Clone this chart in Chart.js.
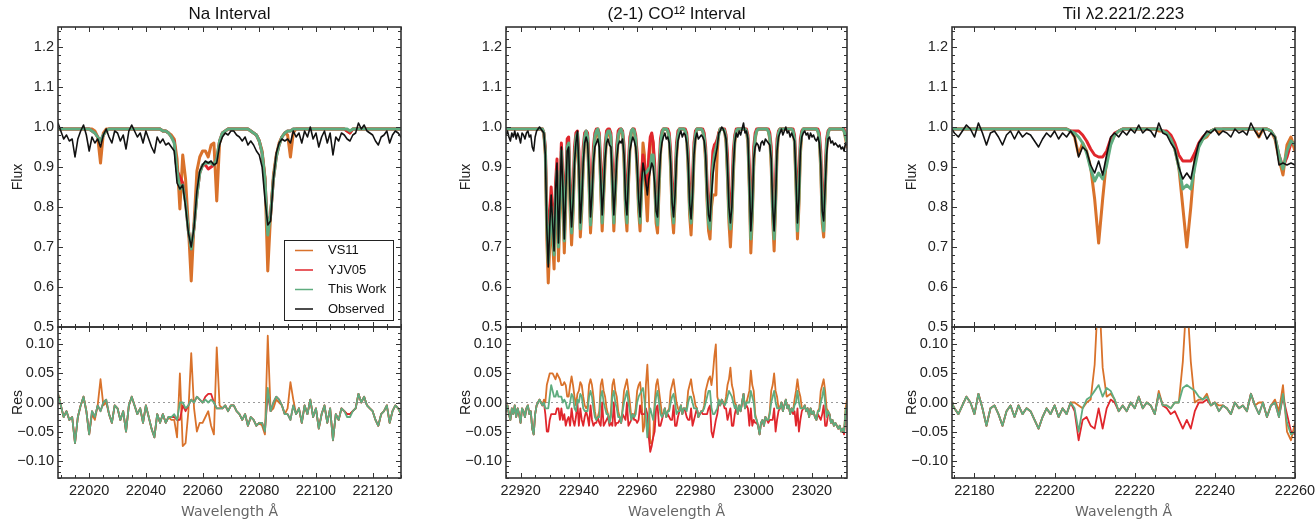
<!DOCTYPE html>
<html>
<head>
<meta charset="utf-8">
<script src="https://cdn.jsdelivr.net/npm/chart.js@4.4.1/dist/chart.umd.min.js"></script>
<style>
html,body{margin:0;padding:0;background:#fff;}
#wrap{position:relative;width:1315px;height:523px;overflow:hidden;background:#fff;}
canvas{position:absolute;}
</style>
</head>
<body>
<div id="wrap"></div>
<script>
// Model fits vs observed spectrum, three wavelength windows (flux + residual panels)

// ---- Na interval, 1 A sampling from 22009 A ----
const naStart = 22009, naStep = 1;
const naObs = [
  1.01,.99,.97,.98,.965,.97,.925,.97,.99,1.005,
  .98,.94,.975,.96,.97,.95,.98,.995,.975,.96,
  .99,.985,.965,.98,.945,.99,1.005,.99,.975,.985,
  .96,.99,.97,.95,.935,.975,.96,.97,.955,.96,
  .95,.94,.86,.845,.855,.80,.735,.70,.75,.84,
  .89,.905,.915,.91,.915,.905,.91,.955,.975,.985,
  .98,.99,.99,.98,.975,.965,.975,.955,.965,.955,
  .94,.93,.90,.82,.755,.765,.87,.935,.96,.97,
  .965,.97,.96,.99,.975,.985,.96,.99,.975,1.0,
  .97,.985,.95,.975,.99,.96,.985,.93,.975,.965,
  .985,.98,.97,.965,.98,.985,1.01,.995,1.005,.99,
  .985,.98,.965,.955,.975,.98,.99,.96,.98,.99,
  .985,.975
];
const naThisWork = [
  .995,.995,.995,.995,.995,.995,.995,.995,.995,.995,
  .995,.995,.99,.985,.975,.965,.98,.99,.995,.995,
  .995,.995,.995,.995,.995,.995,.995,.995,.995,.995,
  .995,.995,.995,.995,.995,.995,.995,.99,.99,.985,
  .975,.96,.89,.845,.855,.81,.74,.695,.75,.83,
  .885,.905,.91,.91,.91,.905,.92,.965,.985,.99,
  .995,.995,.995,.995,.995,.995,.995,.995,.99,.985,
  .98,.965,.935,.87,.73,.78,.87,.925,.955,.975,
  .985,.99,.99,.995,.995,.995,.995,.995,.995,.995,
  .995,.995,.995,.995,.995,.995,.995,.995,.995,.995,
  .995,.995,.995,.99,.995,.995,.995,.995,.995,.995,
  .995,.995,.995,.995,.995,.995,.995,.995,.995,.995,
  .995,.995
];
const naVS11 = [
  .995,.995,.995,.995,.995,.995,.995,.995,.995,.995,
  .995,.995,.995,.99,.975,.91,.985,.995,.995,.995,
  .995,.995,.995,.995,.995,.995,.995,.995,.995,.995,
  .995,.995,.995,.995,.995,.995,.995,.99,.99,.985,
  .98,.97,.92,.795,.93,.87,.75,.615,.76,.89,
  .925,.94,.94,.925,.955,.96,.815,.96,.985,.99,
  .995,.995,.995,.995,.995,.995,.995,.995,.99,.985,
  .98,.965,.94,.875,.64,.78,.88,.93,.96,.975,
  .985,.98,.925,.985,.995,.995,.995,.995,.995,.995,
  .995,.995,.995,.995,.995,.995,.995,.995,.995,.995,
  .995,.995,.99,.985,.995,.995,.995,.995,.995,.995,
  .995,.995,.995,.995,.995,.995,.995,.995,.995,.995,
  .995,.995
];
const naYJV05 = [
  .995,.995,.995,.995,.995,.995,.995,.995,.995,.995,
  .995,.995,.99,.985,.975,.965,.98,.99,.995,.995,
  .995,.995,.995,.995,.995,.995,.995,.995,.995,.995,
  .995,.995,.995,.995,.995,.995,.995,.99,.99,.985,
  .975,.965,.89,.875,.86,.815,.74,.695,.75,.83,
  .885,.905,.905,.895,.90,.905,.92,.965,.985,.99,
  .995,.995,.995,.995,.995,.995,.995,.995,.99,.985,
  .98,.965,.935,.87,.74,.78,.87,.925,.955,.975,
  .985,.99,.99,.995,.995,.995,.995,.995,.995,.995,
  .995,.995,.995,.995,.995,.995,.995,.995,.995,.995,
  .995,.995,.99,.985,.995,.995,.995,.995,.995,.995,
  .995,.995,.995,.995,.995,.995,.995,.995,.995,.995,
  .995,.995
];
const naTicks = [22020, 22040, 22060, 22080, 22100, 22120];

// ---- (2-1) CO12 interval, 0.5 A sampling from 22915 A ----
const coStart = 22915, coStep = 0.5;
const coObs = [
  .98,.99,.975,.965,.985,.975,.99,.97,.985,.975,
  .96,.985,.98,.97,.985,.99,.975,.98,.95,.94,
  .975,.99,.995,1.0,.995,.99,.985,.93,.75,.65,
  .75,.83,.76,.69,.84,.91,.71,.82,.95,.85,
  .72,.83,.94,.95,.82,.75,.81,.91,.96,.99,
  .90,.76,.82,.91,.96,.975,.96,.88,.775,.83,
  .91,.95,.96,.97,.95,.87,.78,.84,.92,.96,
  .97,.955,.95,.87,.78,.84,.92,.955,.965,.96,
  .97,.93,.82,.78,.87,.94,.96,.975,.965,.95,
  .90,.82,.775,.86,.91,.89,.86,.83,.87,.89,
  .91,.90,.86,.79,.775,.86,.93,.96,.975,.985,
  .97,.975,.96,.91,.81,.775,.83,.92,.965,.98,
  .99,.975,.985,.98,.96,.91,.81,.77,.83,.93,
  .97,.985,.97,.975,.98,.975,.965,.93,.84,.78,
  .765,.83,.88,.91,.93,.95,.985,.99,1.0,.995,
  .985,.97,.90,.80,.76,.80,.90,.96,.985,.975,
  .99,.98,.995,1.01,.985,.99,.97,.86,.74,.80,
  .92,.95,.96,.955,.94,.96,.965,.955,.97,.965,
  .96,.955,.92,.80,.74,.82,.94,.975,.985,.995,
  .98,.99,1.0,.985,.99,.975,.985,.975,.965,.87,
  .76,.82,.94,.975,.985,.99,.98,.985,.97,.985,
  .975,.98,.97,.965,.975,.96,.91,.79,.765,.85,
  .93,.97,.975,.96,.965,.955,.96,.955,.95,.955,
  .945,.95,.94,.96,.955
];
const coThisWork = [
  .995,.995,.995,.995,.995,.995,.995,.995,.995,.995,
  .995,.995,.995,.995,.995,.995,.995,.995,.995,.995,
  .995,.995,.995,.995,.995,.995,.985,.94,.76,.66,
  .74,.80,.74,.68,.83,.89,.70,.81,.94,.85,
  .715,.83,.95,.96,.82,.735,.80,.92,.975,.985,
  .90,.745,.81,.92,.975,.99,.975,.87,.755,.82,
  .92,.975,.99,.995,.975,.86,.76,.84,.93,.98,
  .99,.99,.975,.86,.76,.84,.93,.98,.99,.995,
  .985,.93,.81,.76,.87,.955,.99,.995,.99,.97,
  .90,.81,.76,.84,.885,.885,.885,.89,.895,.90,
  .93,.93,.87,.78,.755,.86,.95,.985,.995,.995,
  .995,.99,.975,.91,.80,.76,.83,.94,.98,.995,
  .995,.995,.995,.99,.975,.91,.80,.76,.83,.94,
  .98,.995,.995,.995,.995,.99,.975,.93,.83,.76,
  .745,.84,.90,.93,.945,.96,.98,.995,.995,.995,
  .99,.97,.89,.78,.745,.79,.90,.97,.99,.995,
  .995,.995,.995,.995,.995,.99,.97,.86,.72,.79,
  .92,.975,.99,.995,.995,.995,.995,.995,.995,.995,
  .99,.975,.92,.79,.72,.82,.95,.985,.995,.995,
  .995,.995,.995,.995,.995,.995,.995,.99,.97,.87,
  .74,.82,.95,.985,.995,.995,.995,.995,.995,.995,
  .995,.995,.995,.995,.99,.975,.91,.78,.74,.85,
  .955,.985,.995,.995,.995,.995,.995,.995,.995,.995,
  .995,.995,.99,.975,.96
];
const coVS11 = [
  .995,.995,.995,.995,.995,.995,.995,.995,.995,.995,
  .995,.995,.995,.995,.995,.995,.995,.995,.995,.995,
  .995,.995,.995,.995,.995,.995,.98,.93,.72,.61,
  .70,.78,.71,.645,.80,.86,.665,.78,.92,.82,
  .685,.80,.93,.94,.79,.705,.78,.90,.965,.975,
  .88,.725,.79,.90,.965,.985,.965,.85,.735,.80,
  .90,.965,.99,.995,.965,.84,.74,.82,.91,.97,
  .99,.99,.965,.84,.74,.82,.91,.97,.99,.995,
  .98,.91,.79,.74,.85,.94,.985,.995,.99,.96,
  .88,.79,.74,.85,.96,.93,.83,.765,.86,.96,
  .98,.96,.86,.76,.735,.84,.93,.98,.995,.995,
  .995,.99,.97,.89,.78,.735,.81,.92,.975,.995,
  .995,.995,.995,.99,.97,.89,.78,.73,.81,.92,
  .975,.995,.995,.995,.995,.99,.97,.91,.81,.74,
  .72,.80,.83,.83,.83,.94,.985,.995,.995,.995,
  .99,.96,.87,.76,.70,.77,.88,.96,.99,.995,
  .995,.995,.995,.995,.995,.99,.96,.84,.685,.77,
  .90,.97,.99,.995,.995,.995,.995,.995,.995,.995,
  .99,.97,.90,.77,.69,.80,.93,.985,.995,.995,
  .995,.995,.995,.995,.995,.995,.995,.99,.96,.85,
  .72,.80,.93,.985,.995,.995,.995,.995,.995,.995,
  .995,.995,.995,.995,.99,.97,.89,.76,.725,.83,
  .94,.985,.995,.995,.995,.995,.995,.995,.995,.995,
  .995,.995,.99,.97,.95
];
const coYJV05 = [
  .995,.995,.995,.995,.995,.995,.995,.995,.995,.995,
  .995,.995,.995,.995,.995,.995,.995,.995,.995,.995,
  .995,.995,.995,.995,.995,.995,.985,.95,.80,.70,
  .78,.85,.78,.71,.86,.92,.72,.85,.96,.88,
  .74,.87,.97,.975,.86,.76,.84,.95,.985,.99,
  .94,.77,.85,.95,.985,.99,.985,.92,.78,.86,
  .95,.985,.995,.995,.985,.91,.78,.88,.955,.99,
  .995,.995,.985,.91,.78,.88,.955,.99,.995,.995,
  .99,.955,.85,.78,.91,.975,.99,.995,.995,.98,
  .935,.85,.78,.88,.93,.91,.87,.85,.93,.975,
  .985,.96,.91,.80,.78,.90,.97,.99,.995,.995,
  .995,.995,.985,.94,.84,.78,.87,.96,.99,.995,
  .995,.995,.995,.995,.985,.94,.84,.78,.87,.96,
  .99,.995,.995,.995,.995,.995,.985,.95,.86,.79,
  .77,.88,.94,.955,.96,.97,.985,.995,.995,.995,
  .995,.98,.93,.82,.77,.84,.94,.98,.995,.995,
  .995,.995,.995,.995,.995,.995,.98,.90,.75,.84,
  .95,.985,.995,.995,.995,.995,.995,.995,.995,.995,
  .995,.985,.95,.83,.75,.87,.97,.99,.995,.995,
  .995,.995,.995,.995,.995,.995,.995,.995,.98,.91,
  .77,.87,.97,.99,.995,.995,.995,.995,.995,.995,
  .995,.995,.995,.995,.995,.985,.94,.81,.77,.89,
  .97,.99,.995,.995,.995,.995,.995,.995,.995,.995,
  .995,.995,.995,.98,.97
];
const coTicks = [22920, 22940, 22960, 22980, 23000, 23020];

// ---- TiI 2.221/2.223 interval, 1 A sampling from 22174 A ----
const tiStart = 22174, tiStep = 1;
const tiObs = [
  1.0,.985,.975,.99,1.005,.995,.975,1.01,.985,.955,
  .985,.99,.975,.955,.98,.99,.97,.99,.975,.985,
  .98,.965,.95,.97,.985,.975,.99,.97,.985,.975,
  .99,.975,.925,.95,.94,.905,.885,.915,.88,.93,
  .975,.985,.975,.99,.98,.995,.985,1.005,.985,.995,
  .99,.975,1.01,.985,.98,.96,.945,.90,.87,.885,
  .87,.92,.96,.975,.99,.985,.995,.98,.99,.985,
  .975,.995,.985,.99,.98,1.01,.99,.975,.995,.97,
  .985,.975,.905,.91,.905,.91,.905
];
const tiThisWork = [
  .995,.995,.995,.995,.995,.995,.995,.995,.995,.995,
  .995,.995,.995,.995,.995,.995,.995,.995,.995,.995,
  .995,.995,.995,.995,.995,.995,.995,.995,.995,.995,
  .99,.985,.975,.96,.935,.895,.865,.885,.87,.905,
  .955,.98,.99,.995,.995,.995,.995,.995,.995,.995,
  .995,.995,.995,.99,.985,.97,.945,.90,.845,.855,
  .845,.90,.95,.97,.98,.99,.995,.995,.995,.995,
  .995,.995,.995,.995,.995,.995,.995,.995,.995,.995,
  .99,.975,.93,.895,.94,.965,.955
];
const tiVS11 = [
  .995,.995,.995,.995,.995,.995,.995,.995,.995,.995,
  .995,.995,.995,.995,.995,.995,.995,.995,.995,.995,
  .995,.995,.995,.995,.995,.995,.995,.995,.995,.995,
  .99,.975,.93,.96,.94,.90,.82,.71,.82,.92,
  .96,.98,.99,.995,.995,.995,.995,.995,.995,.995,
  .995,.995,.99,.99,.985,.97,.945,.90,.80,.70,
  .80,.92,.955,.97,.975,.99,.995,.985,.995,.995,
  .995,.995,.995,.995,.995,.995,.995,.975,.995,.995,
  .99,.97,.92,.88,.955,.975,.94
];
const tiYJV05 = [
  .995,.995,.995,.995,.995,.995,.995,.995,.995,.995,
  .995,.995,.995,.995,.995,.995,.995,.995,.995,.995,
  .995,.995,.995,.995,.995,.995,.995,.995,.995,.995,
  .99,.99,.99,.98,.965,.945,.93,.925,.925,.94,
  .97,.985,.99,.995,.995,.995,.995,.995,.995,.995,
  .995,.995,.995,.99,.99,.98,.96,.93,.915,.915,
  .915,.935,.96,.975,.985,.99,.995,.995,.995,.995,
  .995,.995,.995,.995,.995,.995,.995,.995,.995,.995,
  .99,.975,.93,.90,.925,.96,.96
];
const tiTicks = [22180, 22200, 22220, 22240, 22260];

const fluxTicks = [0.5, 0.6, 0.7, 0.8, 0.9, 1.0, 1.1, 1.2];
const resTicks = [-0.10, -0.05, 0, 0.05, 0.10];

// colours
const C_VS11 = '#d9722b', C_YJV = '#e0262c', C_THIS = '#5fac7f', C_OBS = '#111111';
const FONT = "'Liberation Sans', Arial, Helvetica, sans-serif";
const TICK_SIZE = 14.5;
Chart.defaults.font.family = FONT;
Chart.defaults.color = '#222';

// layout (px) -- plot boxes line up between the three columns
const AXIS_W = 58, PAD_R = 26, PAD_V = 16, XAXIS_H = 45;
const TOP_Y = 27, MID_Y = 327, BOT_Y = 478;

function toPoints(start, step, ys){ return ys.map((y,i)=>({x: start + i*step, y})) }
function residual(obs, model){ return obs.map((v,i)=> +(v - model[i]).toFixed(4)) }
function minorValues(scale, step){
  const out = [];
  for(let k=Math.ceil(scale.min/step - 1e-9); k*step <= scale.max + 1e-9; k++) out.push(k*step);
  return out;
}
function marks(ctx, scale, values, len, a, horiz){
  ctx.beginPath();
  values.forEach(v=>{
    const p = Math.round(scale.getPixelForValue(v)) + 0.5;
    if(horiz){ ctx.moveTo(p, a.bottom); ctx.lineTo(p, a.bottom-len); ctx.moveTo(p, a.top); ctx.lineTo(p, a.top+len); }
    else { ctx.moveTo(a.left, p); ctx.lineTo(a.left+len, p); ctx.moveTo(a.right, p); ctx.lineTo(a.right-len, p); }
  });
  ctx.stroke();
}

// frame + inward ticks + dotted zero line
const frame = {
  id: 'frame',
  beforeDatasetsDraw(chart, args, o){
    if(!o.zeroLine) return;
    const {ctx, chartArea:a} = chart; const py = chart.scales.y.getPixelForValue(0);
    ctx.save(); ctx.strokeStyle='#9a9a9a'; ctx.lineWidth=1; ctx.setLineDash([2,3]);
    ctx.beginPath(); ctx.moveTo(a.left, py); ctx.lineTo(a.right, py); ctx.stroke(); ctx.restore();
  },
  afterDatasetsDraw(chart, args, o){
    const {ctx, chartArea:a, scales:{x, y}} = chart;
    ctx.save(); ctx.strokeStyle='#333'; ctx.lineWidth=1;
    marks(ctx, x, minorValues(x, o.xMinor), 3, a, true);
    marks(ctx, x, x.ticks.map(t=>t.value), 5, a, true);
    marks(ctx, y, minorValues(y, o.yMinor), 3, a, false);
    marks(ctx, y, y.ticks.map(t=>t.value), 5, a, false);
    ctx.lineWidth=1.6; ctx.strokeStyle='#333';
    ctx.strokeRect(a.left, a.top, a.width, a.height);
    ctx.restore();
  }
};

// legend box inside the Na flux panel
const legendBox = {
  id: 'legendBox',
  afterDraw(chart){
    const {ctx, chartArea:a} = chart;
    const items = ['VS11','YJV05','This Work','Observed'].map(l=>chart.data.datasets.find(d=>d.label===l));
    const w=109, h=80, x0=a.right-8-w, y0=a.bottom-7-h;
    ctx.save();
    ctx.fillStyle='#fff'; ctx.fillRect(x0,y0,w,h);
    ctx.strokeStyle='#222'; ctx.lineWidth=1; ctx.strokeRect(x0+0.5,y0+0.5,w,h);
    ctx.font = '13px ' + FONT; ctx.textBaseline='middle';
    items.forEach((d,i)=>{
      const yy = y0 + 10.5 + i*19.5;
      ctx.strokeStyle=d.borderColor; ctx.lineWidth=1.5;
      ctx.beginPath(); ctx.moveTo(x0+11, yy); ctx.lineTo(x0+29, yy); ctx.stroke();
      ctx.fillStyle='#111'; ctx.fillText(d.label, x0+44, yy);
    });
    ctx.restore();
  }
};

const panels = [
  {title:'Na Interval', left:58, right:401, xMin:22009, xMax:22130, xTicks:naTicks,
   start:naStart, step:naStep, obs:naObs, vs11:naVS11, yjv05:naYJV05, thisWork:naThisWork, legend:true},
  {title:'(2-1) CO\u00B9\u00B2 Interval', left:506, right:847, xMin:22915, xMax:23032, xTicks:coTicks,
   start:coStart, step:coStep, obs:coObs, vs11:coVS11, yjv05:coYJV05, thisWork:coThisWork},
  {title:'TiI \u03BB2.221/2.223', left:952, right:1295, xMin:22174.4, xMax:22260, xTicks:tiTicks,
   start:tiStart, step:tiStep, obs:tiObs, vs11:tiVS11, yjv05:tiYJV05, thisWork:tiThisWork}
];

const wrap = document.getElementById('wrap');
function addCanvas(left, top, w, h){
  const c = document.createElement('canvas');
  c.width = w; c.height = h;
  c.style.left = left+'px'; c.style.top = top+'px'; c.style.width = w+'px'; c.style.height = h+'px';
  wrap.appendChild(c); return c;
}

const baseOpts = () => ({
  responsive:false, animation:false, devicePixelRatio:1, events:[],
  elements:{point:{radius:0}, line:{tension:0, borderJoinStyle:'round', borderCapStyle:'round'}},
});
const noGrid = {display:false, drawTicks:false};

panels.forEach(p=>{
  [p.obs, p.vs11, p.yjv05, p.thisWork].forEach(a=>{ if(a.length!==p.obs.length) console.warn('length mismatch', p.title) });
  const plotW = p.right - p.left;
  const cw = AXIS_W + plotW + PAD_R;
  const xScale = (showLabels) => ({
    type:'linear', min:p.xMin, max:p.xMax,
    afterBuildTicks: s => { s.ticks = p.xTicks.map(v=>({value:v})) },
    grid:noGrid, border:{display:false},
    ticks: showLabels ? {padding:4, font:{size:TICK_SIZE}, color:'#222', maxRotation:0, autoSkip:false, callback:v=>String(v)} : {display:false},
    title: showLabels ? {display:true, text:'Wavelength \u00C5', color:'#666', font:{family:"'DejaVu Sans', sans-serif", size:14}, padding:{top:0, bottom:2}} : {display:false},
    afterFit: s => { s.height = showLabels ? XAXIS_H : 0 }
  });

  // flux panel
  const topCanvas = addCanvas(p.left - AXIS_W, 0, cw, MID_Y + PAD_V);
  new Chart(topCanvas, {
    type:'line',
    data:{datasets:[
      {label:'Observed', data:toPoints(p.start,p.step,p.obs), borderColor:C_OBS, borderWidth:1.6},
      {label:'This Work', data:toPoints(p.start,p.step,p.thisWork), borderColor:C_THIS, borderWidth:3},
      {label:'YJV05', data:toPoints(p.start,p.step,p.yjv05), borderColor:C_YJV, borderWidth:3},
      {label:'VS11', data:toPoints(p.start,p.step,p.vs11), borderColor:C_VS11, borderWidth:3}
    ]},
    options:Object.assign(baseOpts(), {
      layout:{padding:{left:0, right:PAD_R, top:0, bottom:PAD_V}},
      plugins:{
        legend:{display:false}, tooltip:{enabled:false},
        title:{display:true, text:p.title, fullSize:false, color:'#111', font:{size:17, weight:'normal', lineHeight:1}, padding:{top:6, bottom:4}},
        frame:{xMinor:5, yMinor:0.02}
      },
      scales:{
        x:xScale(false),
        y:{min:0.5, max:1.25,
           afterBuildTicks: s => { s.ticks = fluxTicks.map(v=>({value:v})) },
           grid:noGrid, border:{display:false},
           ticks:{padding:4, font:{size:TICK_SIZE}, color:'#222', callback:v=>v.toFixed(1)},
           title:{display:true, text:'Flux', color:'#222', font:{size:14}, padding:{top:10, bottom:0}},
           afterFit: s => { s.width = AXIS_W }}
      }
    }),
    plugins: p.legend ? [frame, legendBox] : [frame]
  });

  // residual panel
  const resCanvas = addCanvas(p.left - AXIS_W, MID_Y - PAD_V, cw, (BOT_Y - MID_Y) + PAD_V + XAXIS_H);
  new Chart(resCanvas, {
    type:'line',
    data:{datasets:[
      {label:'This Work', data:toPoints(p.start,p.step,residual(p.obs,p.thisWork)), borderColor:C_THIS, borderWidth:1.8},
      {label:'YJV05', data:toPoints(p.start,p.step,residual(p.obs,p.yjv05)), borderColor:C_YJV, borderWidth:1.8},
      {label:'VS11', data:toPoints(p.start,p.step,residual(p.obs,p.vs11)), borderColor:C_VS11, borderWidth:1.8}
    ]},
    options:Object.assign(baseOpts(), {
      layout:{padding:{left:0, right:PAD_R, top:PAD_V, bottom:0}},
      plugins:{legend:{display:false}, tooltip:{enabled:false}, frame:{xMinor:5, yMinor:0.01, zeroLine:true}},
      scales:{
        x:xScale(true),
        y:{min:-0.13, max:0.13,
           afterBuildTicks: s => { s.ticks = resTicks.map(v=>({value:v})) },
           grid:noGrid, border:{display:false},
           ticks:{padding:4, font:{size:TICK_SIZE}, color:'#222', callback:v=>(v<0?'\u2212':'')+Math.abs(v).toFixed(2)},
           title:{display:true, text:'Res', color:'#222', font:{size:14}, padding:{top:10, bottom:0}},
           afterFit: s => { s.width = AXIS_W }}
      }
    }),
    plugins:[frame]
  });
});
</script>
</body>
</html>
